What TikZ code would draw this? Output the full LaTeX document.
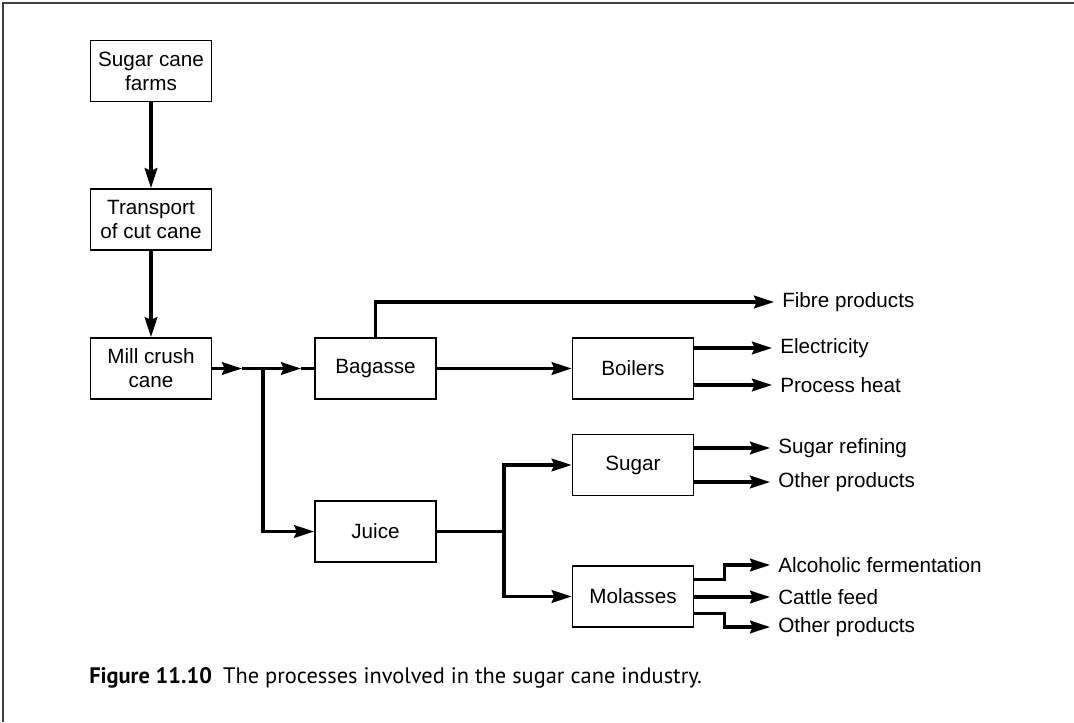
\documentclass[tikz,border=0pt]{standalone}
\usepackage{fontspec}
\setmainfont{Liberation Sans}
\newfontfamily\capfont{PT Sans}
\usetikzlibrary{arrows.meta,positioning}

\begin{document}
\begin{tikzpicture}[x=0.75pt,y=-0.75pt,
  >={Stealth[length=15pt,width=9.5pt,inset=2pt]},
  box/.style={draw,line width=1.3pt,minimum width=90.75pt,minimum height=45.75pt,
    inner sep=0,align=center,font=\fontsize{15.5}{18}\selectfont},
  product/.style={anchor=west,inner ysep=0,inner xsep=6pt,font=\fontsize{15.5}{18}\selectfont},
  flow/.style={line width=2.3pt},
  arr/.style={flow,->}]
  \useasboundingbox (0,0) rectangle (1074,722);
  % page frame (top and left only)
  \draw[line width=1.5pt,black!75] (1074,2.5) -- (2.5,2.5) -- (2.5,722);
  % cane supply chain
  \node[box] (farms) at (151,71) {Sugar cane\\farms};
  \node[box] (trans) at (151,219.5) {Transport\\of cut cane};
  \node[box] (mill) at (151,368.5) {Mill crush\\cane};
  \draw[arr] (farms) -- (trans);
  \draw[arr] (trans) -- (mill);
  % split into bagasse and juice
  \node[box] (bagasse) at (375.5,368.5) {Bagasse};
  \node[box] (juice) at (375.5,531.5) {Juice};
  \coordinate (m1) at (242,368.5);
  \coordinate (split) at (263,368.5);
  \coordinate (m2) at (301,368.5);
  \draw[arr] (mill) -- (m1);
  \draw[flow] (m1) -- (split);
  \draw[arr] (split) -- (m2);
  \draw[flow] (m2) -- (bagasse);
  \draw[arr] (split) |- (juice);
  % bagasse uses
  \node[box] (boilers) at (633,368.5) {Boilers};
  \node[product] (fibre) at (774,302) {Fibre products};
  \node[product] (elec) at (772,348) {Electricity};
  \node[product] (heat) at (772,385) {Process heat};
  \draw[arr] (bagasse) -- (boilers);
  \draw[arr] (bagasse.north) |- (fibre.west);
  \draw[arr] (boilers.east |- elec.west) -- (elec.west);
  \draw[arr] (boilers.east |- heat.west) -- (heat.west);
  % juice products
  \node[box] (sugar) at (633,465) {Sugar};
  \node[box] (molasses) at (633,596.5) {Molasses};
  \coordinate (jsplit) at (504,531.5);
  \draw[flow] (juice) -- (jsplit);
  \draw[arr] (jsplit) |- (sugar);
  \draw[arr] (jsplit) |- (molasses);
  \node[product] (refine) at (770,448) {Sugar refining};
  \node[product] (sother) at (770,482) {Other products};
  \draw[arr] (sugar.east |- refine.west) -- (refine.west);
  \draw[arr] (sugar.east |- sother.west) -- (sother.west);
  \node[product] (alco) at (770,565) {Alcoholic fermentation};
  \node[product] (cattle) at (770,597) {Cattle feed};
  \node[product] (mother) at (770,627) {Other products};
  \draw[arr] ([yshift=13pt]molasses.east) -- ++(30,0) |- (alco.west);
  \draw[arr] (molasses.east |- cattle.west) -- (cattle.west);
  \draw[arr] ([yshift=-12.4pt]molasses.east) -- ++(30,0) |- (mother.west);
  % caption
  \node[anchor=base west,inner sep=0,font=\capfont\fontsize{16.8}{20}\selectfont] (caption)
    at (89,683) {\textbf{Figure 11.10}\enspace The processes involved in the sugar cane industry.};
\end{tikzpicture}
\end{document}
